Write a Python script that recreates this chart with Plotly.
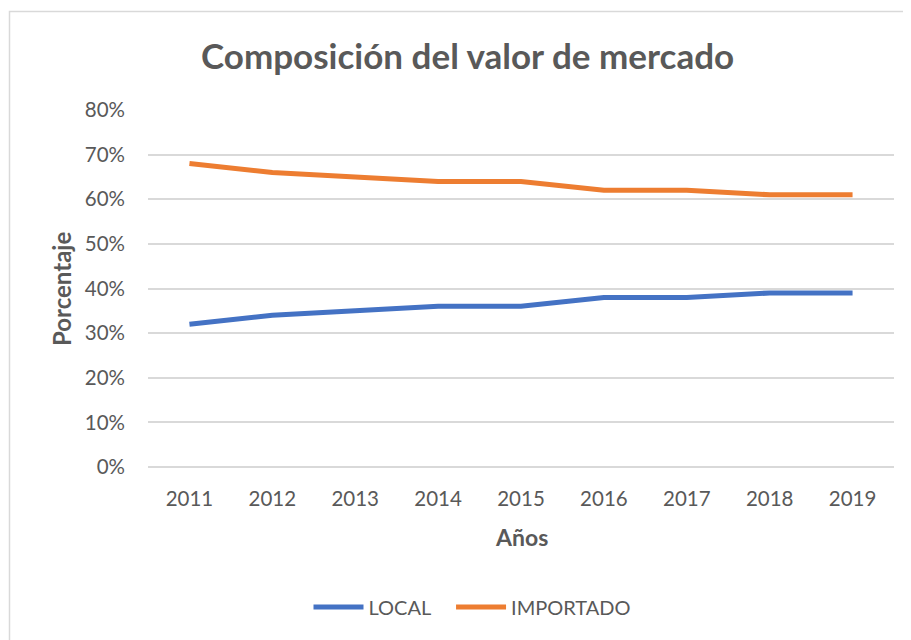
import plotly.graph_objects as go

years = ["2011", "2012", "2013", "2014", "2015", "2016", "2017", "2018", "2019"]
local = [0.32, 0.34, 0.35, 0.36, 0.36, 0.38, 0.38, 0.39, 0.39]
importado = [0.68, 0.66, 0.65, 0.64, 0.64, 0.62, 0.62, 0.61, 0.61]
y_ticks = [0, 0.1, 0.2, 0.3, 0.4, 0.5, 0.6, 0.7, 0.8]

# page body has an 8px margin; work in screen pixel coordinates
OFF = 8
W, H = 911 - OFF, 640 - OFF
L, T = 148 - OFF, 110 - OFF
R = W - (894 - OFF)
B = H - (467 - OFF)
pw, ph = W - L - R, H - T - B

def px(x):
    return (x - OFF - L) / pw

def py(y):
    return (H - B - (y - OFF)) / ph

GRAY = "#595959"
FONT = "Lato, 'Open Sans', sans-serif"
NB = "\u00a0"

fig = go.Figure()
fig.add_trace(go.Scatter(x=years, y=local, name="LOCAL" + NB * 3, mode="lines",
                         line=dict(color="#4472C4", width=5)))
fig.add_trace(go.Scatter(x=years, y=importado, name="IMPORTADO", mode="lines",
                         line=dict(color="#ED7D31", width=5)))

fig.update_layout(
    width=W, height=H,
    margin=dict(l=L, r=R, t=T, b=B, autoexpand=False),
    paper_bgcolor="white", plot_bgcolor="white",
    font=dict(family=FONT, color=GRAY, size=20),
    showlegend=True,
    legend=dict(orientation="h", x=px(472), xanchor="center", y=py(607), yanchor="middle",
                font=dict(size=20, color=GRAY), itemwidth=50, tracegroupgap=0),
    xaxis=dict(type="category", showgrid=False, showline=False, zeroline=False,
               ticks="", tickfont=dict(size=20.5, color=GRAY), ticklabelstandoff=17,
               range=[-0.5, 8.5]),
    yaxis=dict(range=[0, 0.8], tickvals=y_ticks, tickformat=".0%",
               showgrid=True, gridcolor="#D9D9D9", gridwidth=1.5,
               zeroline=True, zerolinecolor="#D9D9D9", zerolinewidth=1.5,
               showline=False, ticks="", tickfont=dict(size=20.5, color=GRAY),
               ticklabelstandoff=22),
    annotations=[
        dict(text="<b>Composición del valor de mercado</b>", x=px(467), y=py(55),
             xref="paper", yref="paper", showarrow=False,
             font=dict(size=35, color=GRAY, family=FONT), xanchor="center", yanchor="middle"),
        dict(text="<b>Años</b>", x=px(521), y=py(537), xref="paper", yref="paper",
             showarrow=False, font=dict(size=23, color=GRAY, family=FONT),
             xanchor="center", yanchor="middle"),
        dict(text="<b>Porcentaje</b>", x=px(61), y=py(289), xref="paper", yref="paper",
             showarrow=False, textangle=-90, font=dict(size=24, color=GRAY, family=FONT),
             xanchor="center", yanchor="middle"),
    ],
    shapes=[
        dict(type="rect", xref="paper", yref="paper",
             x0=px(9.5), x1=px(915), y0=py(645), y1=py(11.5),
             line=dict(color="#D9D9D9", width=1.5), fillcolor="rgba(0,0,0,0)", layer="below"),
    ],
)

fig.write_html("out.html")
